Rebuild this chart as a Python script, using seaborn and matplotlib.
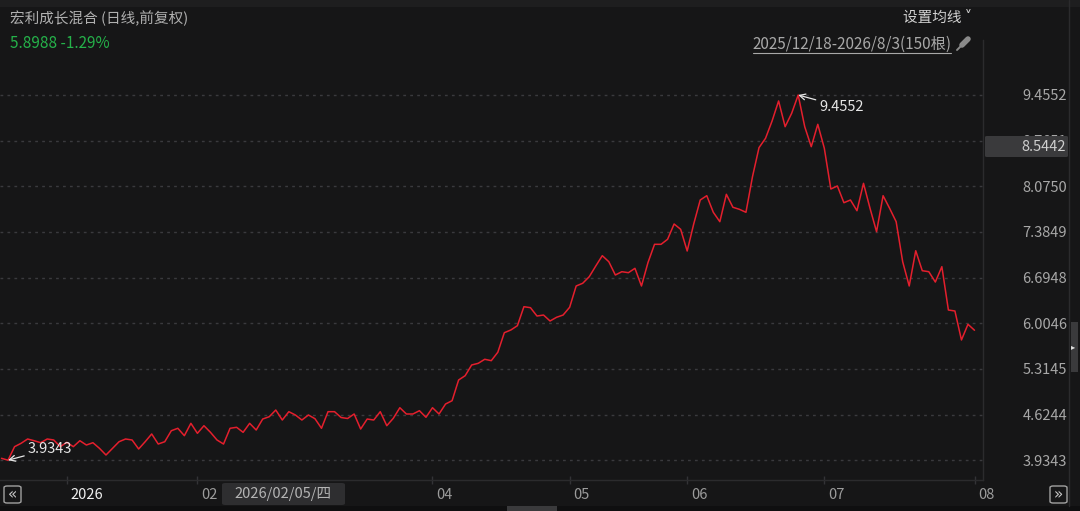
import matplotlib
matplotlib.use("Agg")
import matplotlib.pyplot as plt
import matplotlib.patches as mpatches
import matplotlib.transforms as mtransforms
import pandas as pd
import seaborn as sns

# chart texts
title = "宏利成长混合 (日线,前复权)"
quote = "5.8988 -1.29%"
range_text = "2025/12/18-2026/8/3(150根)"
ma_text = "设置均线 ˅"
cursor_date = "2026/02/05/四"
cursor_price = "8.5442"

# daily NAV, 150 bars
nav = [
    3.963, 3.9343, 4.139, 4.190, 4.255, 4.229, 4.199, 4.255, 4.240, 4.139,
    4.205, 4.139, 4.229, 4.164, 4.199, 4.114, 4.013, 4.114, 4.214, 4.255,
    4.240, 4.104, 4.214, 4.331, 4.179, 4.214, 4.380, 4.417, 4.305, 4.492,
    4.341, 4.456, 4.356, 4.240, 4.179, 4.417, 4.432, 4.356, 4.492, 4.391,
    4.557, 4.592, 4.693, 4.542, 4.668, 4.618, 4.542, 4.618, 4.562, 4.417,
    4.668, 4.668, 4.580, 4.565, 4.633, 4.406, 4.557, 4.542, 4.668, 4.456,
    4.568, 4.728, 4.633, 4.633, 4.683, 4.583, 4.728, 4.633, 4.784, 4.834,
    5.147, 5.212, 5.374, 5.399, 5.460, 5.439, 5.566, 5.862, 5.903, 5.968,
    6.255, 6.240, 6.114, 6.129, 6.039, 6.095, 6.129, 6.246, 6.568, 6.609,
    6.708, 6.870, 7.026, 6.935, 6.734, 6.784, 6.769, 6.835, 6.568, 6.923,
    7.198, 7.198, 7.274, 7.505, 7.425, 7.097, 7.505, 7.868, 7.933, 7.682,
    7.540, 7.954, 7.758, 7.727, 7.682, 8.220, 8.659, 8.801, 9.062, 9.365,
    8.976, 9.179, 9.4552, 8.976, 8.674, 9.012, 8.650, 8.034, 8.080, 7.827,
    7.868, 7.706, 8.120, 7.742, 7.389, 7.933, 7.742, 7.540, 6.935, 6.568,
    7.101, 6.799, 6.784, 6.628, 6.860, 6.205, 6.190, 5.752, 5.989, 5.8988,
]
low_idx = 1
high_idx = 122

y_ticks = [3.9343, 4.6244, 5.3145, 6.0046, 6.6948, 7.3849, 8.0750, 8.7651, 9.4552]
x_tick_pos = [10, 30, 66, 87, 105, 126, 149]
x_tick_labels = ["2026", "02", "04", "05", "06", "07", "08"]

bg = "#161617"
red = "#e41f2d"

sns.set_theme(style="dark")
plt.rcParams["font.family"] = ["Noto Sans CJK SC", "DejaVu Sans"]

W, H = 1080, 511
fig = plt.figure(figsize=(W / 100, H / 100), dpi=100, facecolor=bg)


def fx(px):
    return px / W


def fy(py):
    return 1 - py / H


ax = fig.add_axes([0, fy(480), fx(983), fy(40) - fy(480)])
ax.set_facecolor(bg)

df = pd.DataFrame({"idx": range(len(nav)), "nav": nav})
sns.lineplot(data=df, x="idx", y="nav", ax=ax, color=red, lw=1.1)

ax.set_xlim(-0.23, 150.3)
ax.set_ylim(3.6352, 10.2866)
ax.set_xlabel("")
ax.set_ylabel("")

for s in ["top", "left"]:
    ax.spines[s].set_visible(False)
ax.spines["right"].set_color("#2b2b2d")
ax.spines["bottom"].set_color("#2b2b2d")
ax.spines["right"].set_linewidth(1)
ax.spines["bottom"].set_linewidth(1)

# y axis on the right
ax.yaxis.tick_right()
ax.set_yticks(y_ticks)
ax.set_yticklabels([f"{v:.4f}" for v in y_ticks], ha="right")
ax.tick_params(axis="y", length=0, pad=60.5, labelsize=10.5, labelcolor="#a8a8a8")
ax.grid(axis="y", color="#3a3a3e", linestyle=(0, (2, 3)), lw=1)
ax.grid(axis="x", visible=False)

# x axis
ax.set_xticks(x_tick_pos)
ax.set_xticklabels(x_tick_labels, ha="left")
ax.tick_params(axis="x", direction="inout", length=6, width=1, color="#333336",
               pad=3, labelsize=10.5, labelcolor="#9c9c9c", bottom=True)
shift = mtransforms.ScaledTranslation(4 / 100, 0, fig.dpi_scale_trans)
for lbl in ax.get_xticklabels():
    lbl.set_transform(lbl.get_transform() + shift)
ax.get_xticklabels()[0].set_color("#f0f0f0")

# min / max marks
ax.annotate(f"{nav[low_idx]:.4f}", xy=(low_idx, nav[low_idx]), xytext=(14, 8),
            textcoords="offset points", ha="left", va="center", fontsize=10.5,
            color="#e6e6e6",
            arrowprops=dict(arrowstyle="->", color="#e6e6e6", lw=0.9,
                            shrinkA=0, shrinkB=0))
ax.annotate(f"{nav[high_idx]:.4f}", xy=(high_idx, nav[high_idx]), xytext=(15, -8.5),
            textcoords="offset points", ha="left", va="center", fontsize=10.5,
            color="#e6e6e6",
            arrowprops=dict(arrowstyle="->", color="#e6e6e6", lw=0.9,
                            shrinkA=0, shrinkB=0))

# header
fig.add_artist(mpatches.Rectangle((0, fy(7)), 1, fy(0) - fy(7), transform=fig.transFigure,
                                  fc="#1e1e1f", ec="none"))
fig.text(fx(10), fy(18), title, ha="left", va="center", fontsize=10.5, color="#b0b0b0")
fig.text(fx(10), fy(44), quote, ha="left", va="center", fontsize=11, color="#25b24a")
fig.text(fx(972), fy(18), ma_text, ha="right", va="center", fontsize=10.5, color="#d2d2d2")
fig.text(fx(951), fy(44), range_text, ha="right", va="center", fontsize=11,
         color="#a8a8a8")
fig.add_artist(plt.Line2D([fx(753), fx(951)], [fy(53), fy(53)], transform=fig.transFigure,
                          color="#a8a8a8", lw=0.8))
# pin icon
fig.add_artist(plt.Line2D([fx(957), fx(963)], [fy(50), fy(44)], transform=fig.transFigure,
                          color="#8a8a8a", lw=1.4))
fig.add_artist(plt.Line2D([fx(962), fx(968)], [fy(45), fy(39)], transform=fig.transFigure,
                          color="#8a8a8a", lw=4, solid_capstyle="round"))

# right scrollbar column
fig.add_artist(plt.Line2D([fx(1069), fx(1069)], [fy(0), fy(506)], transform=fig.transFigure,
                          color="#2b2b2d", lw=1))
fig.add_artist(mpatches.Rectangle((fx(1071), fy(372)), fx(7), fy(322) - fy(372),
                                  transform=fig.transFigure, fc="#3a3a3c", ec="none"))
fig.text(fx(1073), fy(347), "▸", ha="center", va="center", fontsize=6, color="#e0e0e0",
         family="DejaVu Sans")

# cursor price box on the right axis
fig.add_artist(mpatches.FancyBboxPatch((fx(985), fy(157)), fx(83), fy(136) - fy(157),
                                       boxstyle="round,pad=0,rounding_size=0.002",
                                       transform=fig.transFigure, fc="#3a3a3c", ec="none",
                                       zorder=5))
fig.text(fx(1066), fy(147), cursor_price, ha="right", va="center", fontsize=10.5,
         color="#cfcfcf", zorder=6)

# cursor date box on the time axis
fig.add_artist(mpatches.FancyBboxPatch((fx(222), fy(505)), fx(123), fy(483) - fy(505),
                                       boxstyle="round,pad=0,rounding_size=0.003",
                                       transform=fig.transFigure, fc="#2e2e30", ec="none",
                                       zorder=5))
fig.text(fx(283), fy(494), cursor_date, ha="center", va="center", fontsize=10.5,
         color="#b4b4b4", zorder=6)

# bottom scrollbar
fig.add_artist(mpatches.Rectangle((0, 0), 1, fy(506), transform=fig.transFigure,
                                  fc="#0f0f10", ec="none"))
fig.add_artist(mpatches.Rectangle((fx(507), 0), fx(50), fy(506), transform=fig.transFigure,
                                  fc="#3a3a3c", ec="none"))

# scroll buttons
for x0, sym in [(4, "«"), (1050, "»")]:
    fig.add_artist(mpatches.FancyBboxPatch((fx(x0), fy(503)), fx(17), fy(486) - fy(503),
                                           boxstyle="round,pad=0,rounding_size=0.003",
                                           transform=fig.transFigure, fc="none",
                                           ec="#a0a0a0", lw=1))
    fig.text(fx(x0 + 8.5), fy(494.5), sym, ha="center", va="center", fontsize=11,
             color="#c8c8c8", family="DejaVu Sans")

fig.savefig("out.png", dpi=100, facecolor=bg)
plt.close(fig)
